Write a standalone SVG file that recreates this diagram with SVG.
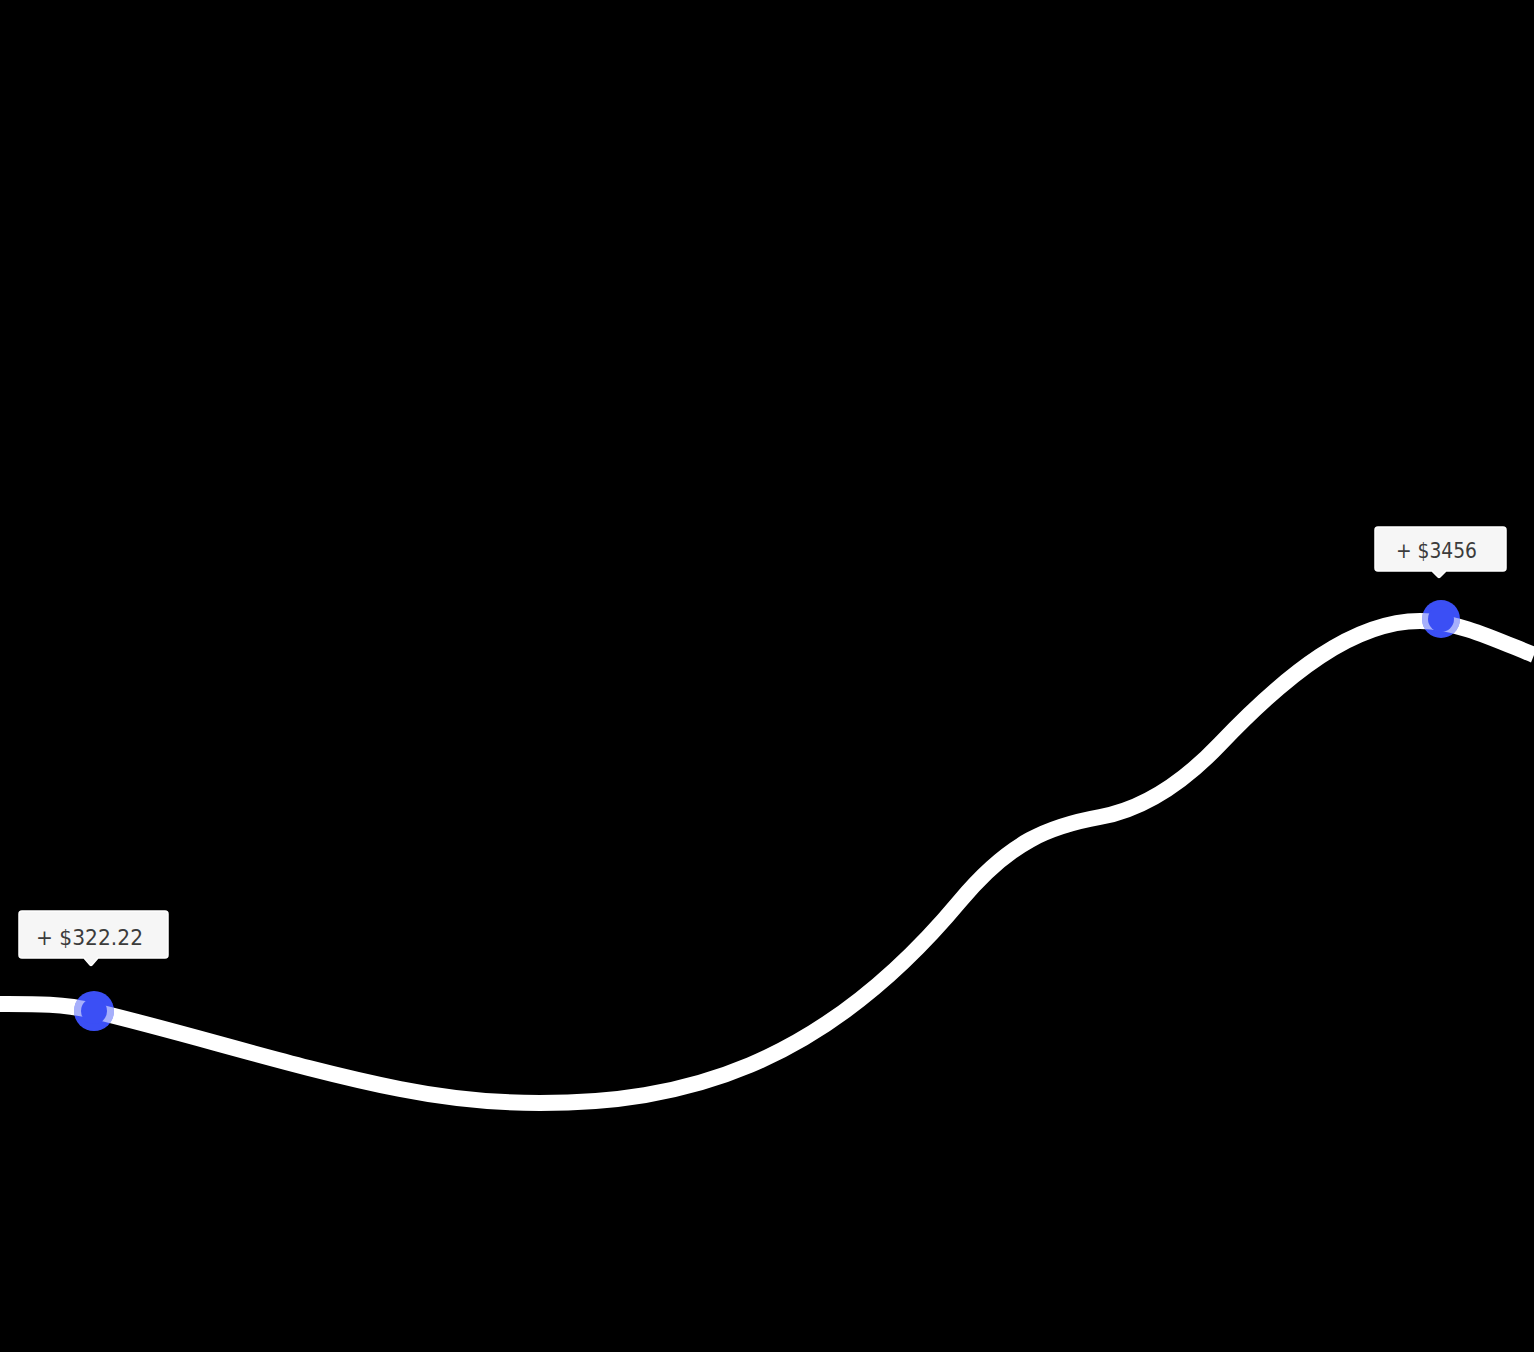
<svg xmlns="http://www.w3.org/2000/svg" xmlns:xlink="http://www.w3.org/1999/xlink" width="1534" height="1352" viewBox="0 0 1534 1352">
<style>
.bg{fill:#000}
.curve{fill:none;stroke:#fff;stroke-width:16}
.dot{fill:#3b4ff5}
.halo{fill:none;stroke:#fff;stroke-width:16;stroke-opacity:0.55}
.tip{fill:#f6f6f6;stroke:#ffffff;stroke-width:1.5}
.lbl{font-family:"DejaVu Sans",sans-serif;font-size:20.5px;fill:#3c3c3c}
</style>
<defs>
<path id="curvePath" d="M0,1004 C31.3,1004 62.7,1003.5 94,1011 C196,1035.5 298,1068.6 400,1089 C446.7,1098.3 493.3,1103 540,1103 C680,1103 820,1069 960,901 C1010,841 1050,826 1100,817 C1140,809.8 1180,786 1220,744 C1286.7,674 1353.3,621 1420,621 C1458,621 1496,639.8 1534,655"/>
<clipPath id="clipA"><circle cx="94" cy="1011" r="20"/></clipPath>
<clipPath id="clipB"><circle cx="1441" cy="619" r="19"/></clipPath>
</defs>
<rect class="bg" x="0" y="0" width="1534" height="1352"/>
<g id="connectors">
<use xlink:href="#curvePath" class="curve"/>
</g>
<g id="point-a">
<circle class="dot" cx="94" cy="1011" r="20"/>
<use xlink:href="#curvePath" class="halo" clip-path="url(#clipA)"/>
<circle class="dot" cx="94" cy="1011" r="13"/>
</g>
<g id="point-b">
<circle class="dot" cx="1441" cy="619" r="19"/>
<use xlink:href="#curvePath" class="halo" clip-path="url(#clipB)"/>
<circle class="dot" cx="1441" cy="619" r="13"/>
</g>
<g id="tooltip-a">
<path class="tip" d="M22,911 H165 Q168,911 168,914 V955 Q168,958 165,958 H98 L92,965 Q91,966 90,965 L84,958 H22 Q19,958 19,955 V914 Q19,911 22,911 Z"/>
<text class="lbl" x="36" y="944.5" textLength="107" lengthAdjust="spacingAndGlyphs">+ $322.22</text>
</g>
<g id="tooltip-b">
<path class="tip" d="M1378,527 H1503 Q1506,527 1506,530 V568 Q1506,571 1503,571 H1446 L1440,577 Q1439,578 1438,577 L1432,571 H1378 Q1375,571 1375,568 V530 Q1375,527 1378,527 Z"/>
<text class="lbl" x="1396" y="557.5" textLength="81" lengthAdjust="spacingAndGlyphs">+ $3456</text>
</g>
</svg>
